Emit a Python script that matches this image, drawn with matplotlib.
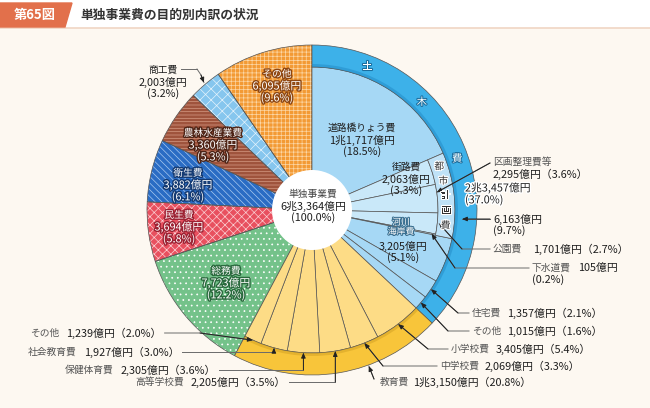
import numpy as np
import matplotlib
matplotlib.use("Agg")
import matplotlib.pyplot as plt
from matplotlib.patches import Wedge, Circle, Polygon, Rectangle
import matplotlib.patheffects as pe

plt.rcParams['font.family'] = ['Noto Sans CJK JP', 'DejaVu Sans']
plt.rcParams['hatch.linewidth'] = 0.5

# ---- データ（億円） ----
total = 63364
major_names = ['土木費', '教育費', '総務費', '民生費', '衛生費', '農林水産業費', '商工費', 'その他']
major_values = [23457, 13150, 7723, 3694, 3882, 3360, 2003, 6095]

doboku_names = ['道路橋りょう費', '街路費', '区画整理費等', '公園費', '下水道費', '河川海岸費', '住宅費', 'その他']
doboku_values = [11717, 2063, 2295, 1701, 105, 3205, 1357, 1015]
toshi_idx = [1, 2, 3, 4]          # 都市計画費の内訳
toshi_total = 6163

kyoiku_names = ['小学校費', '中学校費', '高等学校費', '保健体育費', '社会教育費', 'その他']
kyoiku_values = [3405, 2069, 2205, 2305, 1927, 1239]

# ---- 体裁 ----
CX, CY = 312, 210
R = 165
R_RING = 143
R_TOSHI = 126
R_HOLE = 40
BG = '#fdf8f1'

# 塗り色, ハッチ, ハッチ色, 文字の縁取り
styles = {
    '総務費': ('#74c28a', '...', 'white', '#2b6a3e'),
    '民生費': ('#e8505f', 'xxxx', '#fbd0d4', '#9c2233'),
    '衛生費': ('#2a6cc4', '\\\\\\\\\\', '#a9c9ef', '#143a72'),
    '農林水産業費': ('#9f533c', '-----', '#d59a84', '#4e2416'),
    '商工費': ('#86c6ee', 'xxx', '#e4f3fc', '#2a6f98'),
    'その他': ('#f39a34', '++++', '#fcd7a6', '#8e4712'),
}

FS_NAME = 7.0
FS_NUM = 7.8
TXT = '#1e1e1e'
GRY = '#555555'
DY = 12


def oku(v):
    if v >= 10000:
        return f"{v // 10000}兆{v % 10000:,}億円"
    return f"{v:,}億円"


def pct(v):
    return f"{v / total * 100:.1f}%"


def pt(a, r):
    a = np.radians(a)
    return CX + r * np.sin(a), CY - r * np.cos(a)


def wedge(a0, a1, r, width=None, **kw):
    w = Wedge((CX, CY), r, a0 - 90, a1 - 90, width=width, **kw)
    ax.add_patch(w)
    return w


def outline(c, lw=2.0):
    return [pe.withStroke(linewidth=lw, foreground=c)]


def mid(a0, a1, f=0.5):
    return a0 + (a1 - a0) * f


def stack(x, y, name, num, pc, color=TXT, ncolor=None, stroke=None, ha='center'):
    eff = outline(stroke, 2.0) if stroke else None
    ncolor = ncolor or color
    if name:
        ax.text(x, y, name, fontsize=FS_NAME, color=ncolor, ha=ha, va='center',
                path_effects=eff, zorder=8)
        y += DY
    ax.text(x, y, num, fontsize=FS_NUM, color=color, ha=ha, va='center',
            path_effects=eff, zorder=8)
    ax.text(x, y + DY, f"({pc})", fontsize=FS_NUM, color=color, ha=ha, va='center',
            path_effects=eff, zorder=8)


def row(x, y, name, value, gap=7):
    t = ax.text(x, y, name, fontsize=FS_NAME, color=GRY, ha='left', va='center', zorder=6)
    x1 = t.get_window_extent(renderer=renderer).transformed(ax.transData.inverted()).x1
    t2 = ax.text(x1 + gap, y, f"{oku(value)}（{pct(value)}）", fontsize=FS_NUM, color=TXT,
                 ha='left', va='center', zorder=6)
    return t2.get_window_extent(renderer=renderer).transformed(ax.transData.inverted()).x1


def leader(points, tip_a=None, tip_r=None):
    pts = list(points)
    if tip_a is not None:
        pts.append(pt(tip_a, tip_r))
    xs, ys = zip(*pts)
    ax.plot(xs, ys, color='#6a6a6a', lw=0.7, zorder=6)
    ax.annotate('', xy=pts[-1], xytext=pts[-2],
                arrowprops=dict(arrowstyle='-|>,head_length=0.3,head_width=0.13',
                                color='#222222', lw=0.7, shrinkA=0, shrinkB=0),
                zorder=7)


fig = plt.figure(figsize=(6.5, 4.08), dpi=100)
fig.patch.set_facecolor(BG)
ax = fig.add_axes([0, 0, 1, 1])
ax.set_xlim(0, 650)
ax.set_ylim(408, 0)
ax.axis('off')
renderer = fig.canvas.get_renderer()

# ---- 見出し ----
ax.add_patch(Rectangle((0, 0), 650, 27, color='white', zorder=1))
ax.plot([0, 650], [27.5, 27.5], color='#f0d5c4', lw=1.2, zorder=2)
ax.add_patch(Polygon([(0, 3), (72, 3), (65, 27), (0, 27)], closed=True,
                     color='#e2704b', zorder=3))
ax.text(35, 15, '第65図', color='white', fontsize=9.5, fontweight='bold',
        ha='center', va='center', zorder=4)
ax.text(80, 15, '単独事業費の目的別内訳の状況', color='#333333', fontsize=9.2,
        fontweight='bold', ha='left', va='center', zorder=4)

# ---- 角度 ----
k = 360.0 / total
major_start = np.concatenate([[0], np.cumsum(major_values)[:-1]]) * k
major_end = np.cumsum(major_values) * k

# 主要区分（土木費・教育費以外）
for name, a0, a1 in zip(major_names[2:], major_start[2:], major_end[2:]):
    fc, hatch, hc, dark = styles[name]
    wedge(a0, a1, R, facecolor=fc, edgecolor='none', zorder=2)
    wedge(a0, a1, R, fill=False, edgecolor=hc, hatch=hatch, lw=0, zorder=2.5)
    wedge(a0, a1, R, fill=False, edgecolor='#555555', lw=0.5, zorder=3)

# 土木費
d_start = major_start[0] + np.concatenate([[0], np.cumsum(doboku_values)[:-1]]) * k
d_end = major_start[0] + np.cumsum(doboku_values) * k
for i, (a0, a1) in enumerate(zip(d_start, d_end)):
    if i in toshi_idx:
        wedge(a0, a1, R_TOSHI, facecolor='#c9e8f9', edgecolor='#555555', lw=0.5, zorder=3)
    else:
        wedge(a0, a1, R_RING, facecolor='#a6d8f5', edgecolor='#555555', lw=0.5, zorder=3)
t0, t1 = d_start[toshi_idx[0]], d_end[toshi_idx[-1]]
wedge(t0, t1, R_RING, width=R_RING - R_TOSHI, facecolor='#bfe2f7',
      edgecolor='#555555', lw=0.5, zorder=3)
wedge(major_start[0], major_end[0], R, width=R - R_RING, facecolor='#3db1e9',
      edgecolor='#555555', lw=0.5, zorder=3)
wedge(major_start[0], major_end[0], R_RING + 3, width=3, facecolor='#1f86c2',
      edgecolor='none', alpha=0.45, zorder=3.1)

# 教育費
e_start = major_start[1] + np.concatenate([[0], np.cumsum(kyoiku_values)[:-1]]) * k
e_end = major_start[1] + np.cumsum(kyoiku_values) * k
for a0, a1 in zip(e_start, e_end):
    wedge(a0, a1, R_RING, facecolor='#fddc86', edgecolor='#555555', lw=0.5, zorder=3)
wedge(major_start[1], major_end[1], R, width=R - R_RING, facecolor='#f8c53a',
      edgecolor='#555555', lw=0.5, zorder=3)
wedge(major_start[1], major_end[1], R_RING + 3, width=3, facecolor='#c8961c',
      edgecolor='none', alpha=0.4, zorder=3.1)

# 中心
ax.add_patch(Circle((CX, CY), R_HOLE, facecolor='white', edgecolor='none', zorder=5))
stack(CX + 1, 194, '単独事業費', oku(total), '100.0%', ncolor='#444444')

# 土木費・都市計画費の帯の文字
for ch, a in zip('土木費', [21, 45.5, 70.5]):
    x, y = pt(a, 154)
    ax.text(x, y, ch, fontsize=7.4, color='white', ha='center', va='center',
            path_effects=outline('#1c6e9e', 1.5), zorder=6)
for ch, a in zip('都市計画費', np.linspace(t0 + 4.5, t1 - 5, 5)):
    x, y = pt(a, (R_RING + R_TOSHI) / 2)
    ax.text(x, y, ch, fontsize=7, color='#333333', ha='center', va='center',
            path_effects=outline('white', 1.5), zorder=8)

# 扇形の中のラベル
stack(362, 128, doboku_names[0], oku(doboku_values[0]), pct(doboku_values[0]))
stack(406, 167, doboku_names[1], oku(doboku_values[1]), pct(doboku_values[1]))
ax.text(401, 227, '河川\n海岸費', fontsize=6.4, color='white', ha='center', va='center',
        linespacing=1.05, path_effects=outline('#3a6f90', 1.5), zorder=6)
stack(403, 246, None, oku(doboku_values[5]), pct(doboku_values[5]))

inside_pos = {
    '総務費': (226, 271),
    '民生費': (179, 215),
    '衛生費': (188, 173),
    '農林水産業費': (213, 133),
    'その他': (277, 74),
}
for name, v in zip(major_names, major_values):
    if name in inside_pos:
        x, y = inside_pos[name]
        stack(x, y, name, oku(v), pct(v), color='white', stroke=styles[name][3])

# 商工費（外）
shoko = major_values[6]
stack(163, 70, major_names[6], oku(shoko), pct(shoko))
ax.plot([181, 197], [69, 69], color='#6a6a6a', lw=0.7, zorder=6)
leader([(197, 69), (201, 75)], mid(major_start[6], major_end[6]), R + 2)

# 土木費の合計
stack(465, 188, None, oku(major_values[0]), pct(major_values[0]), ha='left', stroke='white')

# 右側の引き出し線
ax.text(493, 162, doboku_names[2], fontsize=FS_NAME, color=GRY, ha='left', va='center', zorder=6)
ax.text(493, 174, f"{oku(doboku_values[2])}（{pct(doboku_values[2])}）", fontsize=FS_NUM,
        color=TXT, ha='left', va='center', zorder=6)
leader([(490, 163)], mid(d_start[2], d_end[2], 0.28), R_TOSHI)

stack(493, 219, None, oku(toshi_total), f"{toshi_total / total * 100:.1f}%", ha='left')
leader([(490, 219), (462, 219)])

row(493, 249, doboku_names[3], doboku_values[3], gap=11)
leader([(490, 249), (462, 249)], mid(d_start[3], d_end[3]), R_TOSHI + 2)

ax.text(532, 268, doboku_names[4], fontsize=FS_NAME, color=GRY, ha='left', va='center', zorder=6)
ax.text(578, 268, oku(doboku_values[4]), fontsize=FS_NUM, color=TXT, ha='left', va='center', zorder=6)
ax.text(532, 280, f"({pct(doboku_values[4])})", fontsize=FS_NUM, color=TXT,
        ha='left', va='center', zorder=6)
leader([(529, 268), (455, 268)], mid(d_start[4], d_end[4]), R_TOSHI - 4)

right_rows = [
    (doboku_names[6], doboku_values[6], 472, 313, 458, mid(d_start[6], d_end[6])),
    (doboku_names[7], doboku_values[7], 472, 331, 448, mid(d_start[7], d_end[7])),
    (kyoiku_names[0], kyoiku_values[0], 451, 349, 428, mid(e_start[0], e_end[0])),
    (kyoiku_names[1], kyoiku_values[1], 440, 366, 383, mid(e_start[1], e_end[1])),
]
for name, v, xn, y, xb, a in right_rows:
    row(xn, y, name, v, gap=6)
    leader([(xn - 3, y), (xb, y)], a, R_RING)

# 教育費の合計
row(380, 382, major_names[1], major_values[1], gap=4)
leader([(374, 379)], 160, R + 1)

# 左下の引き出し線
left_rows = [
    (kyoiku_names[5], kyoiku_values[5], 30, 333, [(200, 333)], mid(e_start[5], e_end[5])),
    (kyoiku_names[4], kyoiku_values[4], 28, 352, [], mid(e_start[4], e_end[4])),
    (kyoiku_names[3], kyoiku_values[3], 65, 370, [], mid(e_start[3], e_end[3])),
    (kyoiku_names[2], kyoiku_values[2], 135, 382, [], mid(e_start[2], e_end[2])),
]
for name, v, xn, y, extra, a in left_rows:
    x_end = row(xn, y, name, v, gap=7) + 3
    tip = pt(a, R_RING)
    if extra:
        leader([(x_end, y)] + extra + [tip])
    else:
        leader([(x_end, y), (tip[0], y), tip])

fig.savefig('out.png', dpi=100, facecolor=BG)
